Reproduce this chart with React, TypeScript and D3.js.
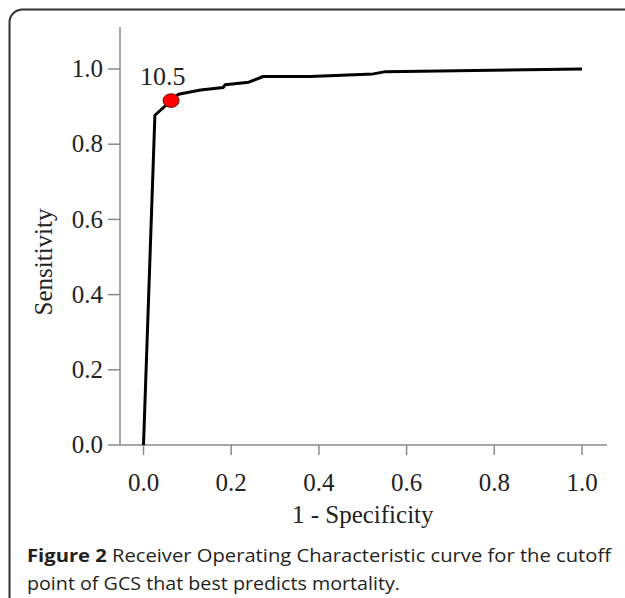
import React from "react";
import * as d3 from "d3";

const fpr = [0, 0.026, 0.063, 0.08, 0.13, 0.182, 0.186, 0.24, 0.273, 0.38, 0.524, 0.552, 1.0];
const tpr = [0, 0.877, 0.916, 0.933, 0.944, 0.951, 0.958, 0.965, 0.98, 0.98, 0.987, 0.993, 1.0];
const cutoffX = 0.063;
const cutoffY = 0.916;
const cutoffLabel = "10.5";
const xTicks = [0, 0.2, 0.4, 0.6, 0.8, 1.0];
const yTicks = [0, 0.2, 0.4, 0.6, 0.8, 1.0];
const xTitle = "1 - Specificity";
const yTitle = "Sensitivity";
const captionBold = "Figure 2";
const captionLine1 = " Receiver Operating Characteristic curve for the cutoff";
const captionLine2 = "point of GCS that best predicts mortality.";

export default function App() {
  const W = 625, H = 598;
  const x = d3.scaleLinear().domain([0, 1]).range([143.5, 582]);
  const y = d3.scaleLinear().domain([0, 1]).range([445, 69]);
  const axisX0 = 120, axisXEnd = 607, axisYTop = 27;
  const pts: [number, number][] = fpr.map((v, i) => [v, tpr[i]]);
  const line = d3.line<[number, number]>().x(d => x(d[0])).y(d => y(d[1]));
  const serif = "'Liberation Serif', 'Times New Roman', serif";
  const sans = "'Open Sans', 'Noto Sans', sans-serif";
  const axisColor = "#8a8a8a";
  const textColor = "#222";
  return (
    <svg width={W} height={H} style={{ position: "absolute", left: 0, top: 0, background: "#fff" }}>
      <rect x={9.5} y={9.5} width={700} height={700} rx={13} ry={13} fill="#fff" stroke="#333" strokeWidth={2} />
      {/* axes */}
      <line x1={axisX0} x2={axisX0} y1={axisYTop} y2={y(0)} stroke={axisColor} strokeWidth={1.5} />
      <line x1={axisX0} x2={axisXEnd} y1={y(0)} y2={y(0)} stroke={axisColor} strokeWidth={1.5} />
      {yTicks.map(t => (
        <g key={"y" + t}>
          <line x1={axisX0 - 12} x2={axisX0} y1={y(t)} y2={y(t)} stroke={axisColor} strokeWidth={1.5} />
          <text x={103} y={y(t)} dy="0.33em" textAnchor="end" fontFamily={serif} fontSize={25} fill={textColor}>
            {t.toFixed(1)}
          </text>
        </g>
      ))}
      {xTicks.map(t => (
        <g key={"x" + t}>
          <line x1={x(t)} x2={x(t)} y1={y(0)} y2={y(0) + 10} stroke={axisColor} strokeWidth={1.5} />
          <text x={x(t)} y={491} textAnchor="middle" fontFamily={serif} fontSize={25} fill={textColor}>
            {t.toFixed(1)}
          </text>
        </g>
      ))}
      <text x={(x(0) + x(1)) / 2} y={523} textAnchor="middle" fontFamily={serif} fontSize={25} fill={textColor}>
        {xTitle}
      </text>
      <text transform={`translate(52, ${(y(0) + y(1)) / 2 + 5}) rotate(-90)`} textAnchor="middle" fontFamily={serif} fontSize={25} fill={textColor}>
        {yTitle}
      </text>
      {/* curve */}
      <path d={line(pts) || ""} fill="none" stroke="#000" strokeWidth={3} strokeLinejoin="round" />
      <ellipse cx={x(cutoffX)} cy={y(cutoffY)} rx={8} ry={6.8} fill="#ff0000" stroke="#7a0000" strokeWidth={1} />
      <text x={140} y={85} fontFamily={serif} fontSize={26} fill={textColor}>{cutoffLabel}</text>
      {/* caption */}
      <text x={27} y={562} fontFamily={sans} fontSize={18.5} fill="#231f20" textLength={584} lengthAdjust="spacingAndGlyphs">
        <tspan fontWeight="bold">{captionBold}</tspan>
        <tspan>{captionLine1}</tspan>
      </text>
      <text x={27} y={590} fontFamily={sans} fontSize={18.5} fill="#231f20" textLength={373} lengthAdjust="spacingAndGlyphs">
        {captionLine2}
      </text>
    </svg>
  );
}
